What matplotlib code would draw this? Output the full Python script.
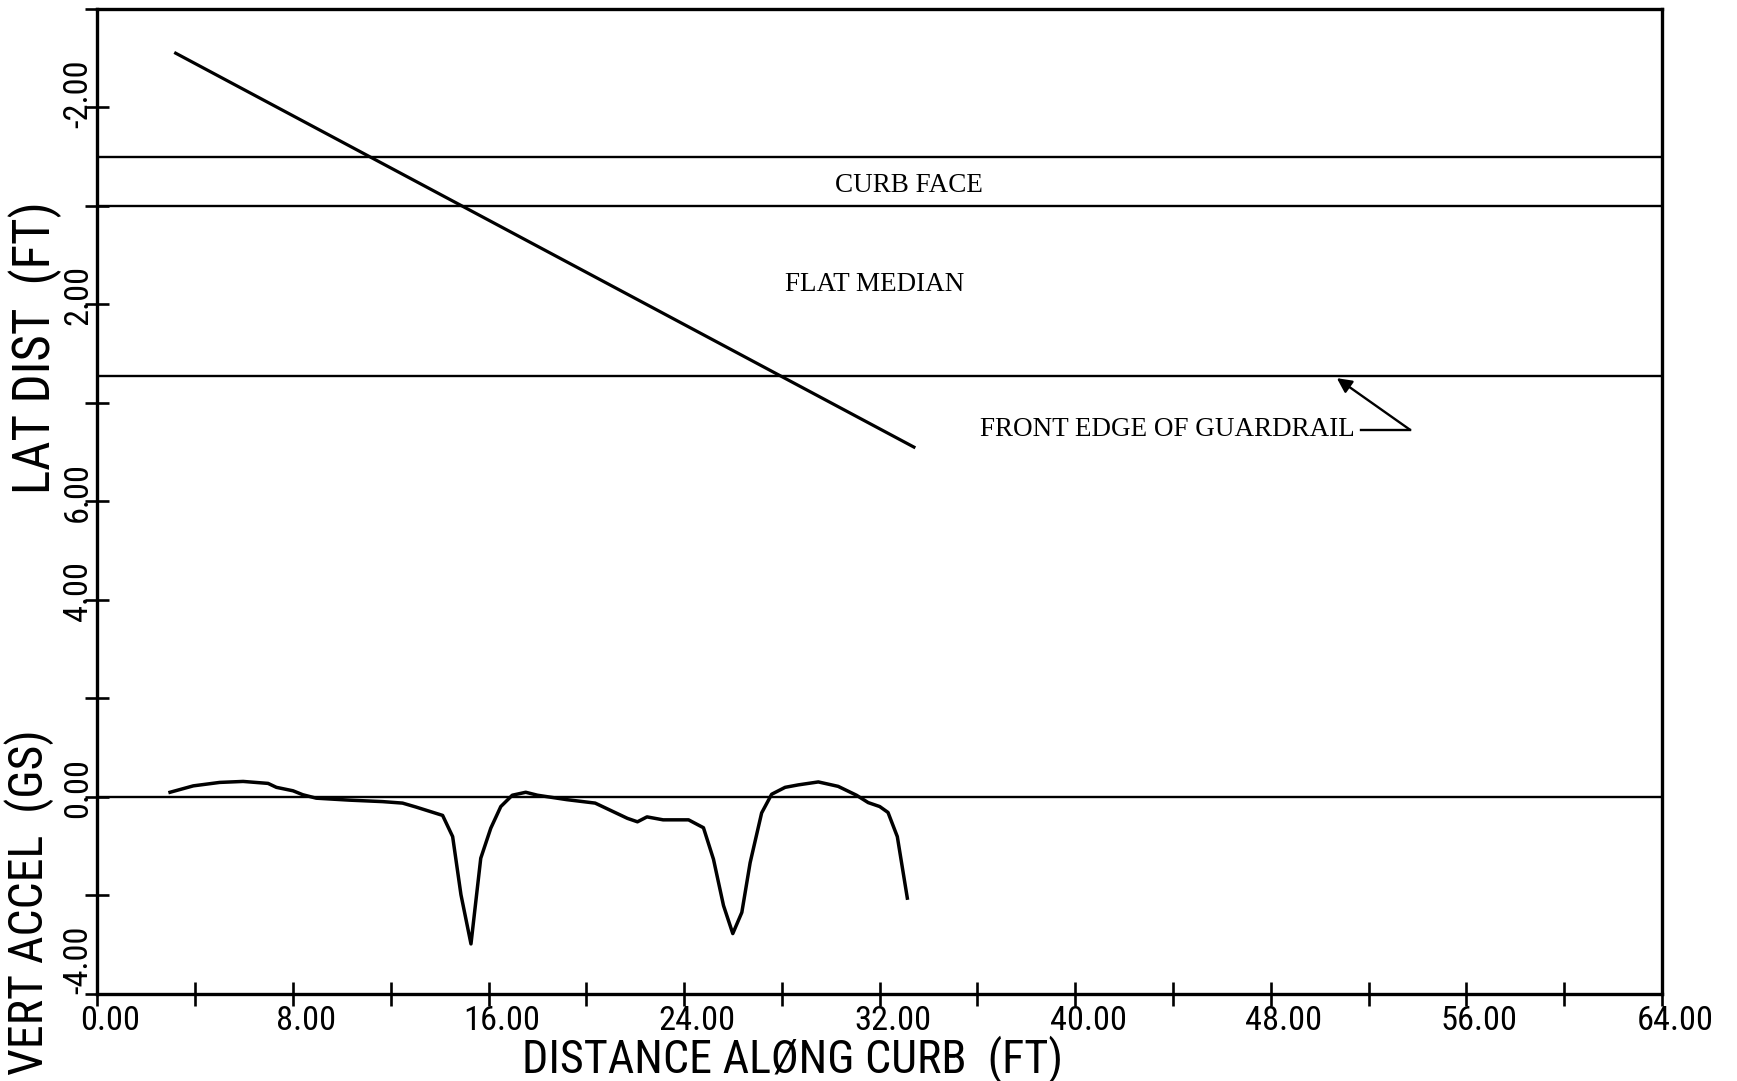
import numpy as np
import matplotlib
matplotlib.use('Agg')
import matplotlib.pyplot as plt
from matplotlib import font_manager
from matplotlib.transforms import ScaledTranslation

# Data
# lateral distance of the vehicle path (ft, positive = further into median)
traj_x = [3.2, 33.4]
traj_lat = [-3.1, 4.9]

# reference lines (lateral distance, ft)
curb_face_top = -1.0
curb_face_bottom = 0.0
guardrail_edge = 3.45

# vertical acceleration (g) along the curb
accel_x = [2.97, 3.92, 5.0, 5.96, 6.98, 7.32, 8.0, 8.4, 8.95, 10.31, 11.67, 12.48,
           13.03, 14.12, 14.53, 14.87, 15.28, 15.68, 16.09, 16.5, 16.97, 17.52, 18.0,
           19.2, 20.36, 21.68, 22.09, 22.48, 23.14, 24.18, 24.79, 25.2, 25.61, 25.99,
           26.36, 26.7, 27.17, 27.58, 28.13, 28.67, 29.49, 30.3, 31.05, 31.53, 32.0,
           32.34, 32.72, 33.13]
accel_g = [0.09, 0.22, 0.29, 0.31, 0.27, 0.19, 0.12, 0.04, -0.03, -0.07, -0.10, -0.13,
           -0.21, -0.38, -0.81, -1.99, -2.99, -1.25, -0.64, -0.20, 0.03, 0.09, 0.03,
           -0.06, -0.13, -0.44, -0.51, -0.41, -0.47, -0.47, -0.63, -1.27, -2.21, -2.78,
           -2.35, -1.34, -0.33, 0.05, 0.19, 0.24, 0.30, 0.21, 0.03, -0.12, -0.20,
           -0.32, -0.81, -2.06]

x_ticks = np.arange(0, 65, 4)
y_ticks = np.arange(-4, 17, 2)
accel_labels = [-4, 0, 4]
lat_labels = [-2, 2, 6]

# pick a narrow font for the plotter lettering if one is installed
fonts = font_manager.fontManager.ttflist
names = {f.name for f in fonts}
stretch = 'normal'
if 'Liberation Sans Narrow' in names:
    plot_font = 'Liberation Sans Narrow'
elif 'Roboto Condensed' in names:
    plot_font = 'Roboto Condensed'
elif any(f.name == 'DejaVu Sans' and f.stretch == 'condensed' for f in fonts):
    plot_font = 'DejaVu Sans'
    stretch = 'condensed'
else:
    plot_font = 'DejaVu Sans'
note_font = 'Liberation Serif'

fig = plt.figure(figsize=(17.37, 10.81), dpi=100)
ax = fig.add_axes([0.0561, 0.0808, 0.9007, 0.911])
ax.set_xlim(0, 64)
ax.set_ylim(-4, 16)

ax_lat = ax.twinx()
ax_lat.set_ylim(16, -4)
ax_lat.set_yticks([])
for s in ax_lat.spines.values():
    s.set_visible(False)

for s in ax.spines.values():
    s.set_linewidth(2.4)

# acceleration trace and its zero line
ax.axhline(0, color='black', lw=1.7)
ax.plot(accel_x, accel_g, color='black', lw=2.5)

# lateral trace, curb and guardrail lines
for y in [curb_face_top, curb_face_bottom, guardrail_edge]:
    ax_lat.axhline(y, color='black', lw=1.7)
ax_lat.plot(traj_x, traj_lat, color='black', lw=2.3)

ax_lat.text(33.2, -0.42, 'CURB FACE', ha='center', va='center',
            family=note_font, fontsize=19.5)
ax_lat.text(31.8, 1.6, 'FLAT MEDIAN', ha='center', va='center',
            family=note_font, fontsize=19.5)
ax_lat.text(36.1, 4.55, 'FRONT EDGE OF GUARDRAIL', ha='left', va='center',
            family=note_font, fontsize=19.5)
ax_lat.plot([51.7, 53.7], [4.55, 4.55], color='black', lw=1.7)
ax_lat.annotate('', xy=(50.7, guardrail_edge + 0.05), xytext=(53.7, 4.55),
                arrowprops=dict(arrowstyle='-|>', color='black', lw=1.7,
                                mutation_scale=22, shrinkA=0, shrinkB=0))

# ticks
ax.set_xticks(x_ticks)
ax.set_xticklabels([f'{v:.2f}' if v % 8 == 0 else '' for v in x_ticks])
ax.set_yticks(y_ticks)
ax.set_yticklabels([])
ax.tick_params(direction='inout', length=17, width=1.9, color='black')
ax.tick_params(axis='x', pad=0)
shift = ScaledTranslation(0.13, 0, fig.dpi_scale_trans)
for t in ax.get_xticklabels():
    t.set_family(plot_font)
    t.set_fontstretch(stretch)
    t.set_transform(t.get_transform() + shift)

ylabels = []
for v in accel_labels:
    dy = 0 if v == -4 else -15
    ylabels.append(ax.annotate(f'{v:.2f}', xy=(0, v), xycoords=('axes fraction', 'data'),
                               xytext=(-14, dy), textcoords='offset points',
                               rotation=90, ha='center', va='bottom',
                               family=plot_font, fontstretch=stretch))
for v in lat_labels:
    ylabels.append(ax_lat.annotate(f'{v:.2f}', xy=(0, v), xycoords=('axes fraction', 'data'),
                                   xytext=(-14, -15), textcoords='offset points',
                                   rotation=90, ha='center', va='bottom',
                                   family=plot_font, fontstretch=stretch))

xlab = fig.text(0.4565, 0.020, 'DISTANCE ALØNG CURB  (FT)', ha='center', va='center',
                family=plot_font, fontstretch=stretch)
lat_lab = fig.text(0.0200, 0.678, 'LAT DIST  (FT)', ha='center', va='center',
                   rotation=90, family=plot_font, fontstretch=stretch)
acc_lab = fig.text(0.0170, 0.165, 'VERT ACCEL  (GS)', ha='center', va='center',
                   rotation=90, family=plot_font, fontstretch=stretch)

# scale the plotter lettering to the widths measured on the original
renderer = fig.canvas.get_renderer()


def fit(txt, target, rotated=False):
    bb = txt.get_window_extent(renderer)
    size = bb.height if rotated else bb.width
    return txt.get_fontsize() * target / size


tick_size = fit(ax.get_xticklabels()[4], 76)
for t in ax.get_xticklabels():
    t.set_fontsize(tick_size)
for t in ylabels:
    t.set_fontsize(tick_size)
xlab.set_fontsize(fit(xlab, 540))
lat_lab.set_fontsize(fit(lat_lab, 292, rotated=True))
acc_lab.set_fontsize(fit(acc_lab, 345, rotated=True))

fig.savefig('out.png', dpi=100)
